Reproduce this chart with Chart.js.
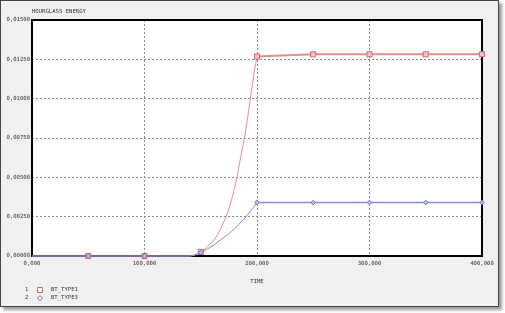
<!DOCTYPE html>
<html lang="en">
<head>
    <meta charset="UTF-8">
    <title>Hourglass Energy</title>
    <script src="https://cdn.jsdelivr.net/npm/chart.js"></script>
    <style>
        body { margin: 0; background: #ffffff; }
        #frame {
            position: absolute; left: 0; top: 0;
            width: 497px; height: 305px;
            border: 1px solid #444;
            background: #f0f0f0;
            box-shadow: 3px 3px 3px #9a9a9a;
        }
        #chart { position: absolute; left: 0; top: 0; }
    </style>
</head>
<body>
    <div id="frame"></div>
    <canvas id="chart" width="505" height="313"></canvas>

    <script>
        // time samples shared by both curves
        var times = [0, 50000, 100000,
                     140000, 142500, 145000, 147500, 150000, 152500, 155000, 157500, 160000,
                     162500, 165000, 167500, 170000, 172500, 175000, 177500, 180000, 182500,
                     185000, 187500, 190000, 192500, 195000, 197500, 200000,
                     250000, 300000, 350000, 400000];
        var bt_type1 = [0, 0, 0,
                        0, 0.00002, 0.00007, 0.00015, 0.00026, 0.00038, 0.00052, 0.0007, 0.00088,
                        0.00108, 0.00135, 0.0017, 0.0021, 0.0025, 0.0030, 0.0036, 0.0043, 0.0051,
                        0.0061, 0.0070, 0.0080, 0.0092, 0.01045, 0.0117, 0.01268,
                        0.01282, 0.01282, 0.01282, 0.01282];
        var bt_type3 = [0, 0, 0,
                        0, 0.00002, 0.00007, 0.00014, 0.00022, 0.00031, 0.00041, 0.00051, 0.00062,
                        0.00074, 0.00088, 0.00103, 0.00116, 0.00128, 0.00142, 0.00157, 0.00173, 0.0019,
                        0.0021, 0.0023, 0.00248, 0.0027, 0.00292, 0.00315, 0.0034,
                        0.0034, 0.0034, 0.0034, 0.0034];
        var seriesNames = ['BT_TYPE1', 'BT_TYPE3'];
        var yTicks = [0, 0.0025, 0.005, 0.0075, 0.01, 0.0125, 0.015];
        var xTicks = [0, 100000, 200000, 300000, 400000];

        var FONT = '5.6px "DejaVu Sans Mono"';

        function toPoints(vals) {
            return times.map(function (t, i) { return { x: t, y: vals[i] }; });
        }

        // markers only every 50 000
        function markerRadius(r) {
            return function (ctx) {
                var x = ctx.raw ? ctx.raw.x : 0;
                return (x > 0 && x % 50000 === 0) ? r : 0;
            };
        }

        // thin curve, thicker flat part after 200 000
        function segWidth(curve, flat) {
            return function (ctx) { return ctx.p0.parsed.x >= 200000 ? flat : curve; };
        }

        var decor = {
            id: 'decor',
            beforeDraw: function (chart) {
                var a = chart.chartArea, c = chart.ctx;
                c.save();
                c.fillStyle = '#ffffff';
                c.fillRect(a.left, a.top, a.right - a.left, a.bottom - a.top);
                c.restore();
            },
            beforeDatasetsDraw: function (chart) {
                var a = chart.chartArea, c = chart.ctx;
                c.save();
                c.strokeStyle = '#000000';
                c.lineWidth = 2;
                c.strokeRect(a.left, a.top, a.right - a.left, a.bottom - a.top);
                c.restore();
            },
            afterDraw: function (chart) {
                var a = chart.chartArea, c = chart.ctx;
                c.save();
                c.font = FONT;
                c.fillStyle = '#333333';
                c.textBaseline = 'middle';
                c.textAlign = 'left';
                c.fillText('HOURGLASS ENERGY', a.left, 12);
                c.textAlign = 'center';
                c.fillText('TIME', (a.left + a.right) / 2, 282);

                // legend
                var rows = [290, 298];
                c.textAlign = 'left';
                for (var i = 0; i < 2; i++) {
                    var ds = chart.data.datasets[i];
                    c.fillStyle = '#333333';
                    c.fillText(String(i + 1), 25, rows[i]);
                    c.fillText(ds.label, 51, rows[i]);
                    c.strokeStyle = ds.pointBorderColor;
                    c.fillStyle = '#ffffff';
                    c.lineWidth = 1;
                    c.beginPath();
                    if (i === 0) {
                        c.rect(37.5, rows[i] - 2.5, 5, 5);
                    } else {
                        c.moveTo(40, rows[i] - 2.5);
                        c.lineTo(42.5, rows[i]);
                        c.lineTo(40, rows[i] + 2.5);
                        c.lineTo(37.5, rows[i]);
                        c.closePath();
                    }
                    c.fill();
                    c.stroke();
                }
                c.restore();
            }
        };

        var ctx = document.getElementById('chart').getContext('2d');
        var chart = new Chart(ctx, {
            type: 'line',
            data: {
                datasets: [{
                    label: seriesNames[0],
                    data: toPoints(bt_type1),
                    borderColor: '#dc9090',
                    borderWidth: 1.5,
                    segment: { borderWidth: segWidth(1, 2) },
                    pointStyle: 'rect',
                    pointRadius: markerRadius(3.6),
                    pointBorderColor: '#d06868',
                    pointBackgroundColor: '#f2c4c4',
                    pointBorderWidth: 1,
                    tension: 0,
                    clip: false,
                    order: 1
                }, {
                    label: seriesNames[1],
                    data: toPoints(bt_type3),
                    borderColor: '#8a8ad8',
                    borderWidth: 1.3,
                    segment: { borderWidth: segWidth(1, 1.5) },
                    pointStyle: 'rectRot',
                    pointRadius: markerRadius(2.3),
                    pointBorderColor: '#6a6ac8',
                    pointBackgroundColor: '#c4c4f2',
                    pointBorderWidth: 1,
                    tension: 0,
                    clip: false,
                    order: 0
                }]
            },
            options: {
                responsive: false,
                animation: false,
                layout: { padding: { top: 20, right: 23, left: 0, bottom: 0 } },
                plugins: {
                    legend: { display: false },
                    tooltip: { enabled: false }
                },
                scales: {
                    x: {
                        type: 'linear',
                        min: 0,
                        max: 400000,
                        afterFit: function (s) { s.height = 57; },
                        afterBuildTicks: function (s) { s.ticks = xTicks.map(function (v) { return { value: v }; }); },
                        grid: { color: '#8c8c8c', lineWidth: 1, drawTicks: false },
                        border: { display: false, dash: [2, 2] },
                        ticks: {
                            padding: 4,
                            maxRotation: 0,
                            color: '#333333',
                            font: { family: 'DejaVu Sans Mono', size: 5.6 },
                            callback: function (v) { return (v / 1000).toFixed(3).replace('.', ','); }
                        }
                    },
                    y: {
                        min: 0,
                        max: 0.015,
                        afterFit: function (s) { s.width = 32; },
                        afterBuildTicks: function (s) { s.ticks = yTicks.map(function (v) { return { value: v }; }); },
                        grid: { color: '#8c8c8c', lineWidth: 1, drawTicks: false },
                        border: { display: false, dash: [2, 2] },
                        ticks: {
                            padding: 2,
                            color: '#333333',
                            font: { family: 'DejaVu Sans Mono', size: 5.6 },
                            callback: function (v) { return v.toFixed(5).replace('.', ','); }
                        }
                    }
                }
            },
            plugins: [decor]
        });
    </script>
</body>
</html>
